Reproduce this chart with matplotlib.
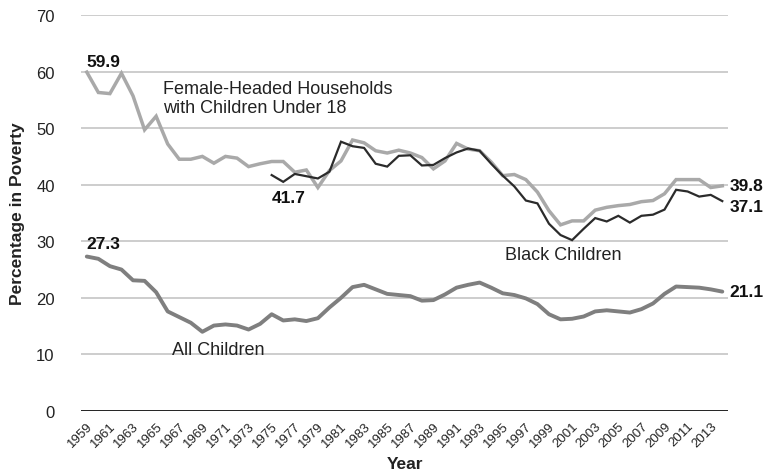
"""
Child poverty rates 1959-2014: all children, Black children,
children in female-headed households.
"""
import numpy as np
import matplotlib.pyplot as plt

plt.rcParams["font.family"] = ["Liberation Sans", "DejaVu Sans"]

years = list(range(1959, 2015))

all_children = [
    27.3, 26.9, 25.6, 25.0, 23.1, 23.0, 21.0, 17.6, 16.6, 15.6,
    14.0, 15.1, 15.3, 15.1, 14.4, 15.4, 17.1, 16.0, 16.2, 15.9,
    16.4, 18.3, 20.0, 21.9, 22.3, 21.5, 20.7, 20.5, 20.3, 19.5,
    19.6, 20.6, 21.8, 22.3, 22.7, 21.8, 20.8, 20.5, 19.9, 18.9,
    17.1, 16.2, 16.3, 16.7, 17.6, 17.8, 17.6, 17.4, 18.0, 19.0,
    20.7, 22.0, 21.9, 21.8, 21.5, 21.1,
]

female_headed = [
    59.9, 56.3, 56.1, 59.7, 55.7, 49.7, 52.1, 47.2, 44.5, 44.5,
    45.0, 43.8, 45.0, 44.7, 43.2, 43.7, 44.1, 44.1, 42.2, 42.6,
    39.5, 42.5, 44.2, 47.9, 47.4, 46.0, 45.6, 46.1, 45.6, 44.8,
    42.8, 44.2, 47.3, 46.3, 46.0, 44.0, 41.6, 41.8, 40.9, 38.7,
    35.4, 32.9, 33.6, 33.6, 35.5, 36.0, 36.3, 36.5, 37.0, 37.2,
    38.4, 40.9, 40.9, 40.9, 39.5, 39.8,
]

# black children series starts in 1975
black_years = list(range(1975, 2015))
black_children = [
    41.7, 40.5, 41.9, 41.5, 41.1, 42.3, 47.6, 46.8, 46.5, 43.7,
    43.2, 45.1, 45.2, 43.4, 43.5, 44.7, 45.7, 46.4, 46.0, 43.7,
    41.6, 39.7, 37.2, 36.7, 33.1, 31.1, 30.2, 32.2, 34.1, 33.5,
    34.5, 33.3, 34.5, 34.7, 35.6, 39.1, 38.8, 37.9, 38.2, 37.1,
]

x_all = np.arange(len(years))
x_black = np.array([years.index(y) for y in black_years])

fig = plt.figure(figsize=(7.68, 4.77), dpi=100)
ax = fig.add_axes([0.1055, 0.1363, 0.8425, 0.8302])

# grid
for v in range(10, 71, 10):
    ax.axhline(v, color="#c9c9c9", lw=1.3, zorder=0)
ax.axhline(0, color="#111111", lw=1.3, zorder=1)

ax.plot(x_all, female_headed, color="#a9a9a9", lw=2.5,
        solid_joinstyle="miter", zorder=3)
ax.plot(x_black, black_children, color="#2b2b2b", lw=1.6,
        solid_joinstyle="miter", zorder=4)
ax.plot(x_all, all_children, color="#7f7f7f", lw=2.8,
        solid_joinstyle="round", solid_capstyle="round", zorder=3)

ax.set_xlim(-0.5, len(years) - 0.5)
ax.set_ylim(0, 70)
ax.set_yticks(range(0, 71, 10))
ax.set_xticks(x_all[::2])
ax.set_xticklabels([str(y) for y in years[::2]], rotation=45,
                   ha="right", va="top", rotation_mode="anchor", fontsize=9.5)
ax.tick_params(axis="both", length=0, colors="#222222")
ax.tick_params(axis="y", labelsize=12, pad=19)
ax.tick_params(axis="x", pad=6)
for s in ax.spines.values():
    s.set_visible(False)

ax.set_ylabel("Percentage in Poverty", fontsize=12.5, fontweight="bold",
              color="#222222", labelpad=8)
ax.set_xlabel("Year", fontsize=12.5, fontweight="bold", color="#222222",
              labelpad=5)

# value labels
bold = dict(fontsize=12.5, fontweight="bold", color="#111111")
ax.annotate(f"{female_headed[0]:.1f}", (x_all[0], female_headed[0]),
            xytext=(0, 2), textcoords="offset points", ha="left", va="bottom", **bold)
ax.annotate(f"{all_children[0]:.1f}", (x_all[0], all_children[0]),
            xytext=(0, 4), textcoords="offset points", ha="left", va="bottom", **bold)
ax.annotate(f"{black_children[0]:.1f}", (x_black[0], black_children[0]),
            xytext=(0, -11), textcoords="offset points", ha="left", va="top", **bold)
ax.annotate(f"{female_headed[-1]:.1f}", (x_all[-1], female_headed[-1]),
            xytext=(5, 0), textcoords="offset points", ha="left", va="center", **bold)
ax.annotate(f"{black_children[-1]:.1f}", (x_all[-1], black_children[-1]),
            xytext=(5, -4), textcoords="offset points", ha="left", va="center", **bold)
ax.annotate(f"{all_children[-1]:.1f}", (x_all[-1], all_children[-1]),
            xytext=(5, 0), textcoords="offset points", ha="left", va="center", **bold)

# series names
name = dict(fontsize=13, color="#222222")
ax.text(years.index(1965) + 0.6, 55.3, "Female-Headed Households\nwith Children Under 18",
        ha="left", va="center", linespacing=1.15, **name)
ax.text(years.index(1966) + 0.35, 10.9, "All Children", ha="left", va="center", **name)
ax.text(years.index(1995) + 0.2, 27.7, "Black Children", ha="left", va="center", **name)

fig.savefig("out.png", dpi=100)
